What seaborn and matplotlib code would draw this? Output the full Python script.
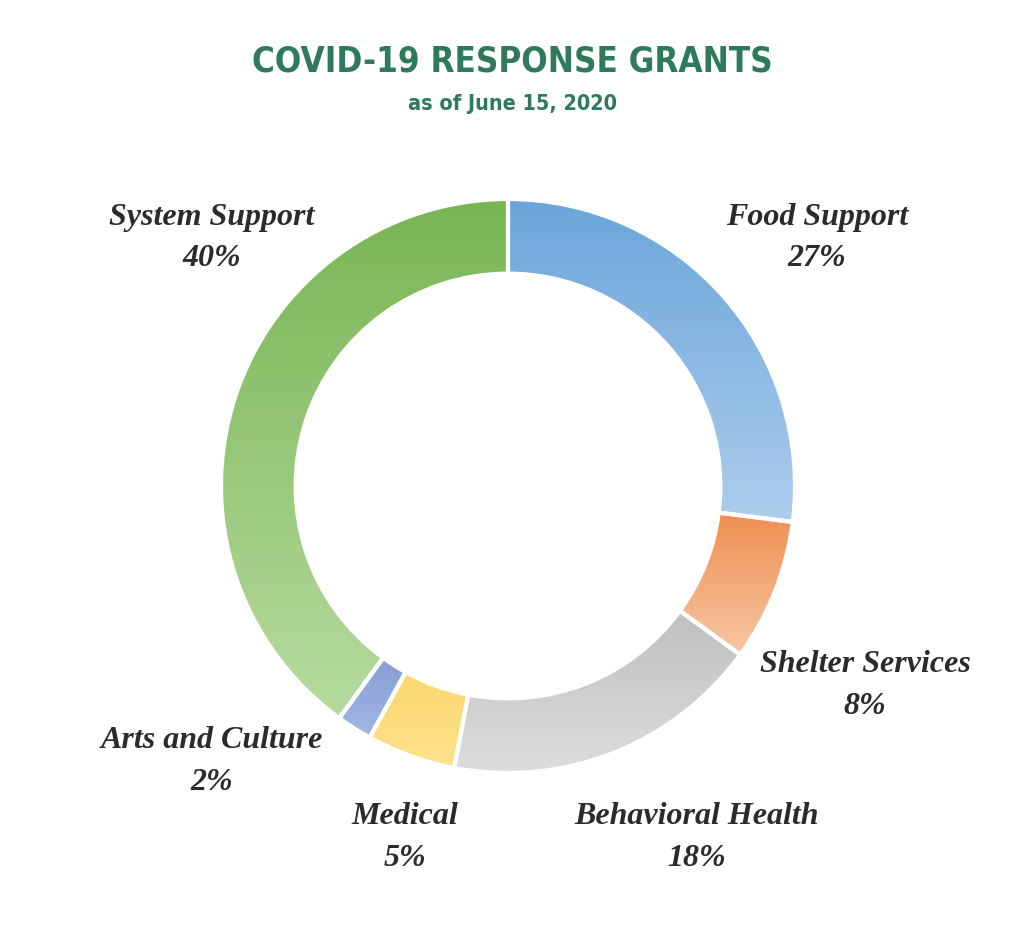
import numpy as np
import matplotlib
matplotlib.use("Agg")
import matplotlib.pyplot as plt
import seaborn as sns
from matplotlib.colors import LinearSegmentedColormap

sns.set_theme(style="white")

categories = ["Food Support", "Shelter Services", "Behavioral Health",
              "Medical", "Arts and Culture", "System Support"]
shares = [27, 8, 18, 5, 2, 40]
top_colors = ["#6aa5da", "#ee8543", "#a8a8a8", "#f8c22a", "#4769be", "#78b553"]
bottom_colors = ["#aecdec", "#f7c7a4", "#dedede", "#fde28e", "#a3b6e2", "#b7dba0"]

# label anchor points (pixels from top-left)
label_pos = [(817, 217), (865, 665), (697, 817), (405, 817), (212, 740), (212, 217)]

fig = plt.figure(figsize=(10.24, 9.52), dpi=100)
ax = fig.add_axes([0, 0, 1, 1])

cx, cy, r = 508, 952 - 486, 287
wedges, _ = ax.pie(shares, startangle=90, counterclock=False, center=(cx, cy),
                   radius=r, wedgeprops=dict(width=r * 0.26, edgecolor="white", linewidth=3),
                   frame=True)

grad = np.linspace(0, 1, 256).reshape(-1, 1)
for w, c0, c1 in zip(wedges, top_colors, bottom_colors):
    v = w.get_path().vertices
    x0, x1 = v[:, 0].min(), v[:, 0].max()
    y0, y1 = v[:, 1].min(), v[:, 1].max()
    cmap = LinearSegmentedColormap.from_list("g", [c1, c0])
    im = ax.imshow(grad, cmap=cmap, extent=(x0, x1, y0, y1), origin="lower",
                   aspect="auto", zorder=w.get_zorder())
    im.set_clip_path(w)
    w.set_facecolor("none")
    w.set_zorder(im.get_zorder() + 1)

ax.set_xlim(0, 1024)
ax.set_ylim(0, 952)
ax.set_aspect("equal")
ax.axis("off")

for name, share, (px, py) in zip(categories, shares, label_pos):
    ax.text(px, 952 - py, name, ha="center", va="center", fontsize=23,
            family="Liberation Serif", style="italic", weight="bold", color="#2b2b2b")
    ax.text(px, 952 - py - 42, f"{share}%", ha="center", va="center", fontsize=23,
            family="Liberation Serif", style="italic", weight="bold", color="#2b2b2b")

fig.text(0.5, 1 - 62 / 952, "COVID-19 RESPONSE GRANTS", ha="center", va="center",
         fontsize=25, weight="bold", family="DejaVu Sans", stretch="condensed", color="#2e7a5a")
fig.text(0.5, 1 - 104 / 952, "as of June 15, 2020", ha="center", va="center",
         fontsize=15.5, weight="bold", family="DejaVu Sans", stretch="condensed", color="#2e7a5a")

fig.savefig("out.png", dpi=100)
